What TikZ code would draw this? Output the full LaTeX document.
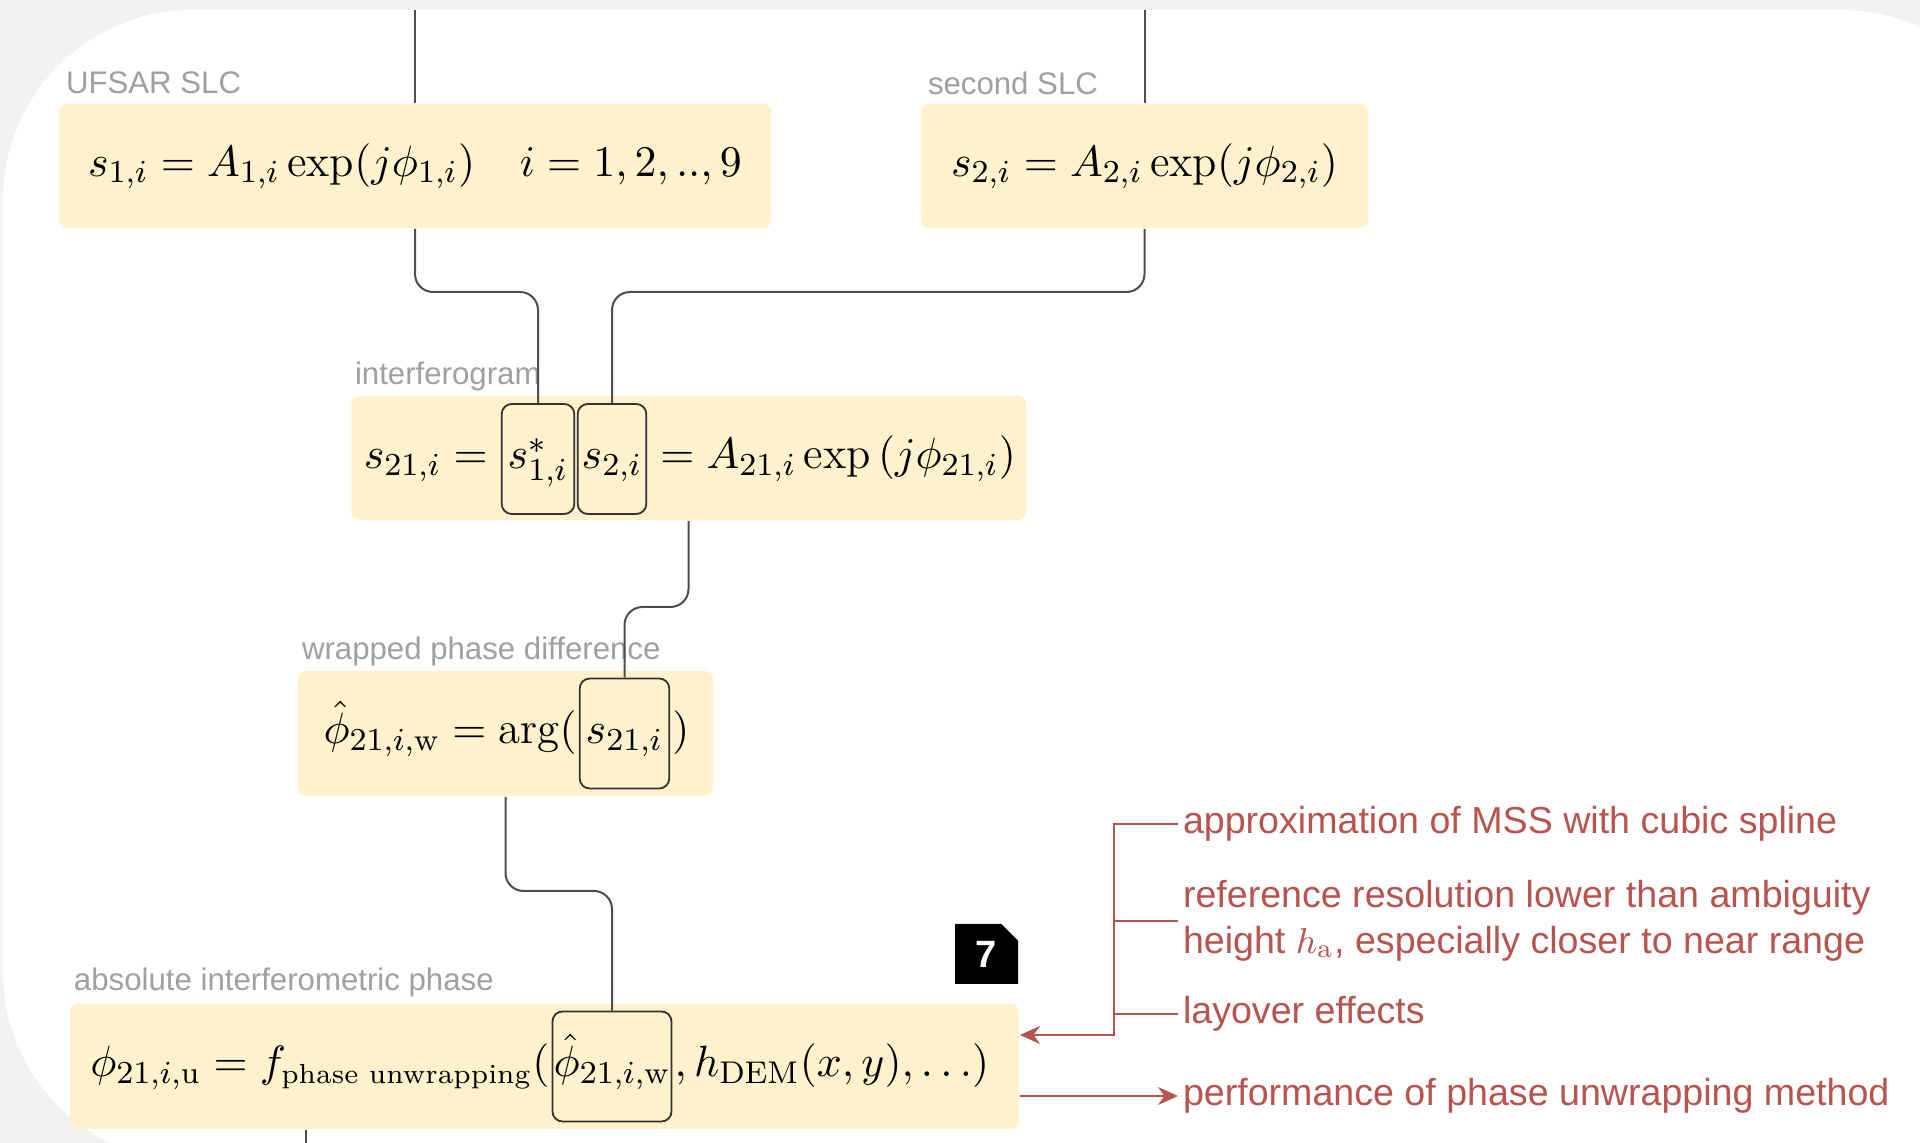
\documentclass[tikz,border=0pt]{standalone}
\usepackage{fontspec}
\usetikzlibrary{arrows.meta,positioning,shapes.misc}

\newfontfamily\tagfont{Liberation Sans}

\definecolor{pagebg}{HTML}{F2F2F2}
\definecolor{boxfill}{HTML}{FFF2CC}
\definecolor{taggray}{HTML}{A0A0A0}
\definecolor{connline}{HTML}{4D4D4D}
\definecolor{frameline}{HTML}{333333}
\definecolor{notered}{HTML}{B85450}

\tikzset{every picture/.style={line width=0.5pt}}
\tikzset{
  box/.style={fill=boxfill, rounded corners=2pt, inner sep=0pt,
    font=\fontsize{11.2}{13.4}\selectfont},
  eq/.style={inner sep=0pt, font=\fontsize{11.2}{13.4}\selectfont},
  frm/.style={draw=frameline, line width=0.45pt, rounded corners=2.5pt,
    inner xsep=1.5pt, text height=8.5pt, text depth=3.5pt, minimum height=27.5pt,
    font=\fontsize{11.2}{13.4}\selectfont},
  tag/.style={font=\tagfont\fontsize{7.8}{9}\selectfont, text=taggray,
    inner sep=0pt, anchor=west},
  conn/.style={draw=connline, rounded corners=4.5pt},
  note/.style={font=\tagfont\fontsize{9.4}{11.6}\selectfont, text=notered,
    align=left, inner xsep=1pt, inner ysep=0pt, anchor=west},
  noteline/.style={draw=notered, line width=0.55pt},
  badge/.style={chamfered rectangle, chamfered rectangle corners=north east,
    chamfered rectangle xsep=1.5pt, fill=black, text=white, inner sep=0pt,
    minimum width=15.75pt, minimum height=15pt,
    font=\tagfont\bfseries\fontsize{9.5}{11}\selectfont}
}

\newcommand{\smallsub}[1]{\mbox{\fontsize{6.9}{8}\selectfont #1}}

\begin{document}
\begin{tikzpicture}[x=0.25pt,y=0.25pt,yscale=-1,xscale=1]
	\useasboundingbox (0,0) rectangle (1920,1143);
	% page and panel
	\fill[pagebg] (0,0) rectangle (1920,1143);
	\fill[white, rounded corners=47.5pt] (3,10) rectangle (2031,1162);

	%Rounded Rect
	\node[box, minimum width=178pt, minimum height=31pt] (ufsar) at (415,166)
	  {$s_{1,i} = A_{1,i}\exp(j\phi_{1,i})\quad i=1,2,..,9$};
	%Rounded Rect
	\node[box, minimum width=111.75pt, minimum height=31pt] (second) at (1144.5,166)
	  {$s_{2,i} = A_{2,i}\exp(j\phi_{2,i})$};
	%Rounded Rect
	\node[box, minimum width=168.75pt, minimum height=31pt] (interf) at (688.5,458) {};
	%Rounded Rect
	\node[box, minimum width=103.75pt, minimum height=31.25pt] (wrapped) at (505.5,733.5) {};
	%Rounded Rect
	\node[box, minimum width=237.25pt, minimum height=31.25pt] (absph) at (544.5,1066.5) {};

	% Text Node
	\node[tag] (tufsar) at (65,83) {UFSAR SLC};
	% Text Node
	\node[tag] (tsecond) at (927,83) {second SLC};
	% Text Node
	\node[tag] (tinterf) at (354,376) {interferogram};
	% Text Node
	\node[tag] (twrapped) at (301,651) {wrapped phase difference};
	% Text Node
	\node[tag] (tabsph) at (73,982) {absolute interferometric phase};

	% framed factors
	\node[frm] (s1conj) at (538,459) {$s^*_{1,i}$};
	\node[frm, inner xsep=1pt] (s2fac) at (612,459) {$s_{2,i}$};
	\node[frm] (s21) at (624.5,733.5) {$s_{21,i}$};
	\node[frm, inner xsep=0.3pt] (phiw) at (612,1066.5) {$\hat{\phi}_{21,i,\mathrm{w}}$};

	% Text Node
	\node[eq, anchor=base east] (interfl) at (s1conj.base west) {$s_{21,i} ={}$};
	\node[eq, anchor=base west] (interfr) at (s2fac.base east) {${}= A_{21,i}\exp\left(j\phi_{21,i}\right)$};
	% Text Node
	\node[eq, anchor=base east] (wrappedl) at ([xshift=-0.3pt]s21.base west) {$\hat{\phi}_{21,i,\mathrm{w}} = \arg($};
	\node[eq, anchor=base west] (wrappedr) at ([xshift=0.3pt]s21.base east) {$)$};
	% Text Node
	\node[eq, anchor=base east] (absphl) at ([xshift=-0.3pt]phiw.base west) {$\phi_{21,i,\mathrm{u}} = f_{\smallsub{phase unwrapping}}\bigl($};
	\node[eq, anchor=base west] (absphr) at ([xshift=0.3pt]phiw.base east) {$,h_{\mathrm{DEM}}(x,y),\ldots\bigr)$};

	%Connectors
	\coordinate (topa) at (415,10);
	\coordinate (topb) at (1144.5,10);
	\coordinate (tail) at (306,1143);
	\draw[conn] (topa) -- (ufsar.north);
	\draw[conn] (topb) -- (second.north);
	\draw[conn] (ufsar.south) -- ++(0,63) -| (s1conj.north);
	\draw[conn] (second.south) -- ++(0,63) -| (s2fac.north);
	\draw[conn] (interf.south) -- ++(0,86) -| (s21.north);
	\draw[conn] (wrapped.south) -- ++(0,94) -| (phiw.north);
	\draw[conn] (absph.south -| tail) -- (tail);

	% step marker
	\node[badge] (step7) at (986.5,954) {7};

	% Text Node
	\node[note] (n1) at (1178,824) {approximation of MSS with cubic spline};
	% Text Node
	\node[note] (n2) at (1178,921) {reference resolution lower than ambiguity\\height $h_{\mathrm{a}}$, especially closer to near range};
	% Text Node
	\node[note] (n3) at (1178,1014) {layover effects};
	% Text Node
	\node[note] (n4) at (1178,1096) {performance of phase unwrapping method};

	%Straight Lines
	\coordinate (brk) at (1114,1035);
	\draw[noteline, -{Stealth[length=5pt,width=4.5pt]}] (n1.west) -| (brk) -- (brk -| absph.east);
	\draw[noteline] (n2.west) -- (n2.west -| brk);
	\draw[noteline] (n3.west) -- (n3.west -| brk);
	\draw[noteline, -{Stealth[length=5pt,width=4.5pt]}] (n4.west -| absph.east) -- (n4.west);

\end{tikzpicture}
\end{document}
